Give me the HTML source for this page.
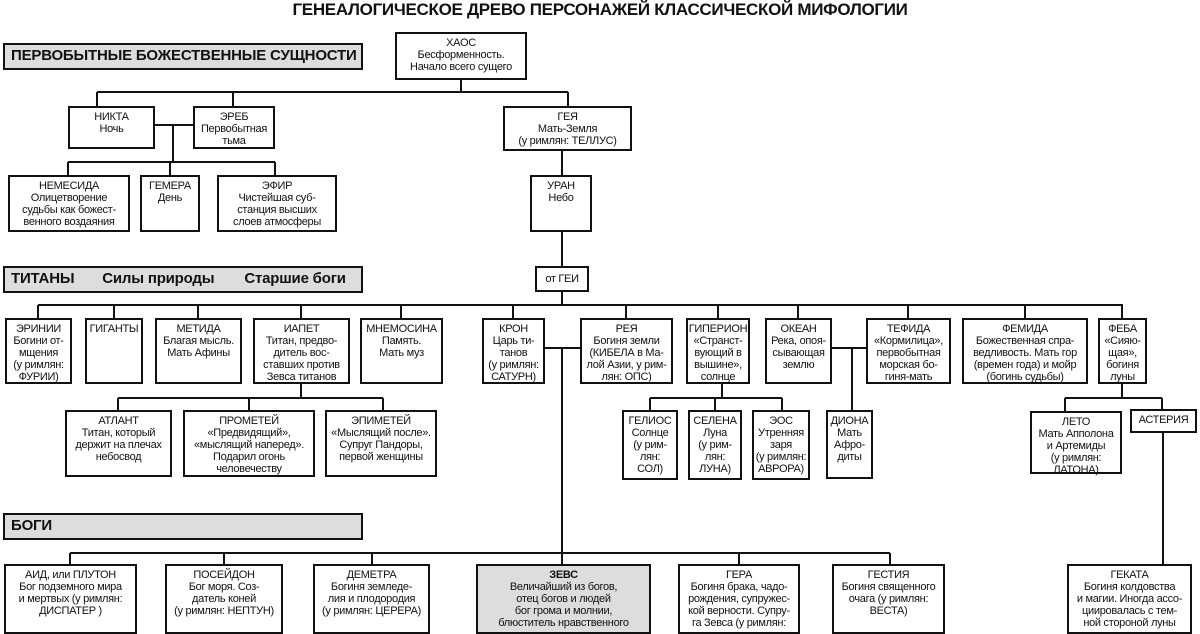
<!DOCTYPE html>
<html><head><meta charset="utf-8"><style>
body{margin:0;width:1200px;height:628px;overflow:hidden;background:#fff;position:relative;font-family:"Liberation Sans",sans-serif;color:#111}
.b{position:absolute;border:2px solid #111;box-sizing:border-box;background:#fff;text-align:center;font-size:11px;line-height:12px;padding-top:3px;letter-spacing:-0.3px}
.h{position:absolute;border:2px solid #111;box-sizing:border-box;background:#ddd;font-weight:bold;font-size:15px;padding-left:6px;line-height:22px;letter-spacing:-0.2px}
svg{position:absolute;left:0;top:0}
</style></head><body>
<div style="position:absolute;left:0;width:1200px;top:0;text-align:center;font-weight:bold;font-size:17px;letter-spacing:-0.3px">ГЕНЕАЛОГИЧЕСКОЕ ДРЕВО ПЕРСОНАЖЕЙ КЛАССИЧЕСКОЙ МИФОЛОГИИ</div>
<svg width="1200" height="628" stroke="#111" stroke-width="2" fill="none">
<path d="M461 79V92M97 92H568M97 92V106M233 92V106M568 92V106"/>
<path d="M155 125H193M173 125V162M68 162H275M68 162V175M170 162V175M275 162V175"/>
<path d="M562 150V175M562 232V266M562 291V305M38 305H1123"/>
<path d="M38 305V318M114 305V318M198 305V318M301 305V318M401 305V318M513 305V318M626 305V318M718 305V318M798 305V318M908 305V318M1025 305V318M1122 305V318"/>
<path d="M301 383V398M118 398H383M118 398V410M249 398V410M383 398V410"/>
<path d="M545 348H580M562 348V553M70 553H890M70 553V564M224 553V564M372 553V564M562 553V564M739 553V564M890 553V564"/>
<path d="M722 383V398M650 398H782M650 398V410M715 398V410M782 398V410"/>
<path d="M832 348H866M852 348V410"/>
<path d="M1122 383V398M1065 398H1162M1065 398V411M1162 398V411M1163 432V564"/>
</svg>
<div class="h" style="left:3px;top:43px;width:360px;height:27px">ПЕРВОБЫТНЫЕ БОЖЕСТВЕННЫЕ СУЩНОСТИ</div>
<div class="h" style="left:3px;top:266px;width:360px;height:27px">ТИТАНЫ <span style="margin-left:24px">Силы природы</span><span style="margin-left:30px">Старшие боги</span></div>
<div class="h" style="left:3px;top:513px;width:360px;height:27px">БОГИ</div>
<div class="b" style="left:395px;top:32px;width:132px;height:48px">ХАОС<br>Бесформенность.<br>Начало всего сущего</div>
<div class="b" style="left:68px;top:106px;width:87px;height:43px">НИКТА<br>Ночь</div>
<div class="b" style="left:193px;top:106px;width:82px;height:43px">ЭРЕБ<br>Первобытная<br>тьма</div>
<div class="b" style="left:503px;top:106px;width:129px;height:45px">ГЕЯ<br>Мать-Земля<br>(у римлян: ТЕЛЛУС)</div>
<div class="b" style="left:8px;top:175px;width:122px;height:57px">НЕМЕСИДА<br>Олицетворение<br>судьбы как божест-<br>венного воздаяния</div>
<div class="b" style="left:140px;top:175px;width:60px;height:57px">ГЕМЕРА<br>День</div>
<div class="b" style="left:217px;top:175px;width:120px;height:57px">ЭФИР<br>Чистейшая суб-<br>станция высших<br>слоев атмосферы</div>
<div class="b" style="left:530px;top:175px;width:62px;height:57px">УРАН<br>Небо</div>
<div class="b" style="left:535px;top:266px;width:54px;height:26px;padding-top:5px">от ГЕИ</div>
<div class="b" style="left:5px;top:318px;width:67px;height:66px">ЭРИНИИ<br>Богини от-<br>мщения<br>(у римлян:<br>ФУРИИ)</div>
<div class="b" style="left:85px;top:318px;width:58px;height:66px">ГИГАНТЫ</div>
<div class="b" style="left:155px;top:318px;width:87px;height:66px">МЕТИДА<br>Благая мысль.<br>Мать Афины</div>
<div class="b" style="left:253px;top:318px;width:97px;height:66px">ИАПЕТ<br>Титан, предво-<br>дитель вос-<br>ставших против<br>Зевса титанов</div>
<div class="b" style="left:360px;top:318px;width:83px;height:66px">МНЕМОСИНА<br>Память.<br>Мать муз</div>
<div class="b" style="left:482px;top:318px;width:63px;height:66px">КРОН<br>Царь ти-<br>танов<br>(у римлян:<br>САТУРН)</div>
<div class="b" style="left:580px;top:318px;width:93px;height:66px">РЕЯ<br>Богиня земли<br>(КИБЕЛА в Ма-<br>лой Азии, у рим-<br>лян: ОПС)</div>
<div class="b" style="left:686px;top:318px;width:64px;height:66px">ГИПЕРИОН<br>«Странст-<br>вующий в<br>вышине»,<br>солнце</div>
<div class="b" style="left:765px;top:318px;width:67px;height:66px">ОКЕАН<br>Река, опоя-<br>сывающая<br>землю</div>
<div class="b" style="left:866px;top:318px;width:85px;height:66px">ТЕФИДА<br>«Кормилица»,<br>первобытная<br>морская бо-<br>гиня-мать</div>
<div class="b" style="left:962px;top:318px;width:126px;height:66px">ФЕМИДА<br>Божественная спра-<br>ведливость. Мать гор<br>(времен года) и мойр<br>(богинь судьбы)</div>
<div class="b" style="left:1098px;top:318px;width:49px;height:66px">ФЕБА<br>«Сияю-<br>щая»,<br>богиня<br>луны</div>
<div class="b" style="left:65px;top:410px;width:107px;height:67px">АТЛАНТ<br>Титан, который<br>держит на плечах<br>небосвод</div>
<div class="b" style="left:183px;top:410px;width:132px;height:67px">ПРОМЕТЕЙ<br>«Предвидящий»,<br>«мыслящий наперед».<br>Подарил огонь<br>человечеству</div>
<div class="b" style="left:325px;top:410px;width:112px;height:67px">ЭПИМЕТЕЙ<br>«Мыслящий после».<br>Супруг Пандоры,<br>первой женщины</div>
<div class="b" style="left:622px;top:410px;width:56px;height:70px">ГЕЛИОС<br>Солнце<br>(у рим-<br>лян:<br>СОЛ)</div>
<div class="b" style="left:688px;top:410px;width:54px;height:70px">СЕЛЕНА<br>Луна<br>(у рим-<br>лян:<br>ЛУНА)</div>
<div class="b" style="left:752px;top:410px;width:58px;height:70px">ЭОС<br>Утренняя<br>заря<br>(у римлян:<br>АВРОРА)</div>
<div class="b" style="left:826px;top:410px;width:47px;height:69px">ДИОНА<br>Мать<br>Афро-<br>диты</div>
<div class="b" style="left:1030px;top:411px;width:92px;height:63px">ЛЕТО<br>Мать Апполона<br>и Артемиды<br>(у римлян:<br>ЛАТОНА)</div>
<div class="b" style="left:1130px;top:409px;width:67px;height:24px;padding-top:3px">АСТЕРИЯ</div>
<div class="b" style="left:4px;top:564px;width:133px;height:70px">АИД, или ПЛУТОН<br>Бог подземного мира<br>и мертвых (у римлян:<br>ДИСПАТЕР )</div>
<div class="b" style="left:165px;top:564px;width:118px;height:70px">ПОСЕЙДОН<br>Бог моря. Соз-<br>датель коней<br>(у римлян: НЕПТУН)</div>
<div class="b" style="left:313px;top:564px;width:117px;height:70px">ДЕМЕТРА<br>Богиня земледе-<br>лия и плодородия<br>(у римлян: ЦЕРЕРА)</div>
<div class="b" style="left:476px;top:564px;width:175px;height:70px;background:#ddd"><b>ЗЕВС</b><br>Величайший из богов,<br>отец богов и людей<br>бог грома и молнии,<br>блюститель нравственного</div>
<div class="b" style="left:678px;top:564px;width:122px;height:70px">ГЕРА<br>Богиня брака, чадо-<br>рождения, супружес-<br>кой верности. Супру-<br>га Зевса (у римлян:</div>
<div class="b" style="left:832px;top:564px;width:113px;height:70px">ГЕСТИЯ<br>Богиня священного<br>очага (у римлян:<br>ВЕСТА)</div>
<div class="b" style="left:1067px;top:564px;width:125px;height:70px">ГЕКАТА<br>Богиня колдовства<br>и магии. Иногда ассо-<br>циировалась с тем-<br>ной стороной луны</div>
</body></html>
